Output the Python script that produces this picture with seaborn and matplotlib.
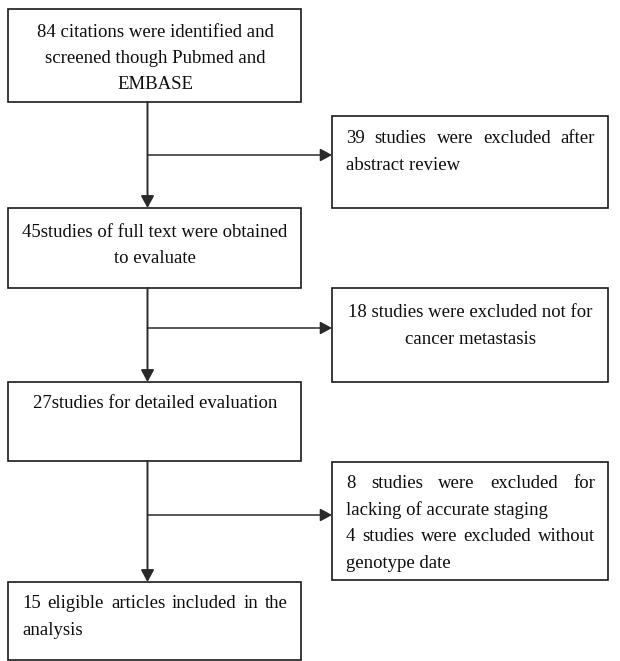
import matplotlib
matplotlib.use("Agg")
import matplotlib.pyplot as plt
from matplotlib.patches import Rectangle
import seaborn as sns

# ---- content ----
main_steps = [
    ["84 citations were identified and", "screened though Pubmed and", "EMBASE"],
    ["45studies of full text were obtained", "to evaluate"],
    ["27studies for detailed evaluation"],
    ["15 eligible articles included in the", "analysis"],
]
excluded_steps = [
    ["39 studies were excluded after", "abstract review"],
    ["18 studies were excluded not for", "cancer metastasis"],
    ["8 studies were excluded for", "lacking of accurate staging",
     "4 studies were excluded without", "genotype date"],
]
# alignment per line: 'c' centered, 'j' justified, 'l' left
main_align = [["c", "c", "c"], ["c", "c"], ["c"], ["j", "l"]]
excl_align = [["j", "l"], ["c", "c"], ["j", "l", "j", "l"]]

# ---- layout (pixels) ----
W, H = 620, 661
sns.set_theme(style="white")
plt.rcParams["font.family"] = ["Liberation Serif", "DejaVu Serif"]

fig = plt.figure(figsize=(W / 100, H / 100), dpi=100)
ax = fig.add_axes([0, 0, 1, 1])
ax.set_xlim(0, W)
ax.set_ylim(H, 0)
ax.axis("off")
renderer = fig.canvas.get_renderer()

FS = 13.5
EDGE = "#1a1a1a"

main_boxes = [(8, 9, 301, 102), (8, 208, 301, 288), (8, 382, 301, 461), (8, 582, 301, 660)]
main_base = [[37, 63, 89], [237, 263], [408], [608, 635]]
excl_boxes = [(332, 116, 608, 208), (332, 288, 608, 382), (332, 462, 608, 580)]
excl_base = [[143, 170], [317, 344], [488, 515, 541, 568]]
arrow_y = [155, 328, 515]
VX = 147.5


def text_width(s):
    t = ax.text(0, 0, s, fontsize=FS)
    w = t.get_window_extent(renderer).width
    t.remove()
    return w


def draw_line(s, mode, x0, x1, y):
    if mode == "c":
        ax.text((x0 + x1) / 2, y, s, fontsize=FS, ha="center", va="baseline", color="#0d0d0d")
    elif mode == "l":
        ax.text(x0, y, s, fontsize=FS, ha="left", va="baseline", color="#0d0d0d")
    else:
        words = s.split()
        widths = [text_width(w) for w in words]
        gap = (x1 - x0 - sum(widths)) / (len(words) - 1)
        x = x0
        for w, wd in zip(words, widths):
            ax.text(x, y, w, fontsize=FS, ha="left", va="baseline", color="#0d0d0d")
            x += wd + gap


def draw_box(box, lines, aligns, bases):
    x0, y0, x1, y1 = box
    ax.add_patch(Rectangle((x0, y0), x1 - x0, y1 - y0, fill=False, edgecolor=EDGE, lw=1.2))
    for s, a, b in zip(lines, aligns, bases):
        draw_line(s, a, x0 + 14, x1 - 13, b)


for box, lines, al, bs in zip(main_boxes, main_steps, main_align, main_base):
    draw_box(box, lines, al, bs)
for box, lines, al, bs in zip(excl_boxes, excluded_steps, excl_align, excl_base):
    draw_box(box, lines, al, bs)

arrow_kw = dict(arrowstyle="-|>,head_length=0.55,head_width=0.3", mutation_scale=13,
                lw=1.4, color="#2a2a2a", shrinkA=0, shrinkB=0)
# vertical arrows between main boxes
for (a, b) in zip(main_boxes[:-1], main_boxes[1:]):
    ax.annotate("", xy=(VX, b[1]), xytext=(VX, a[3]), arrowprops=arrow_kw)
# horizontal arrows to exclusion boxes
for y, box in zip(arrow_y, excl_boxes):
    ax.annotate("", xy=(box[0], y), xytext=(VX, y),
                arrowprops=dict(arrow_kw, lw=1.1))

fig.savefig("out.png", dpi=100, facecolor="white")
